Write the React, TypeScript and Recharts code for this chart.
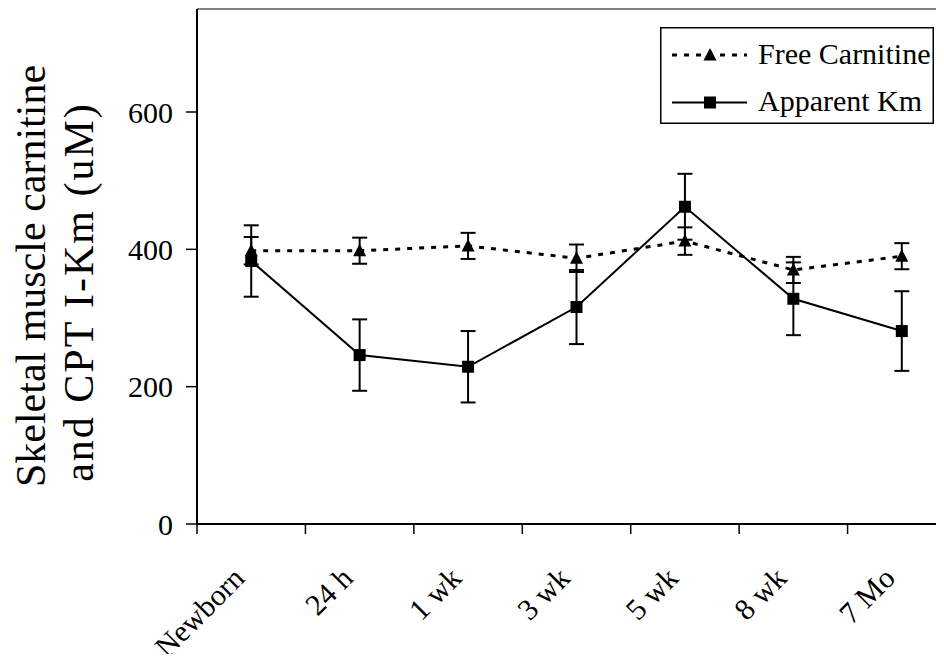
import React from 'react';
import { LineChart, Line, XAxis, YAxis, ErrorBar, ReferenceLine, Legend } from 'recharts';

const categories = ['Newborn', '24 h', '1 wk', '3 wk', '5 wk', '8 wk', '7 Mo'];
const freeCarnitine = [398, 398, 405, 387, 412, 370, 390];
const freeCarnitineErr = [20, 19, 19, 20, 20, 19, 19];
const apparentKm = [383, 246, 229, 316, 462, 328, 281];
const apparentKmErr = [52, 52, 52, 54, 48, 53, 58];
const yTicks = [0, 200, 400, 600];

const data = categories.map((name, i) => ({
  x: i + 0.5,
  name,
  carnitine: freeCarnitine[i],
  carnitineErr: freeCarnitineErr[i],
  km: apparentKm[i],
  kmErr: apparentKmErr[i],
}));

const xTicks: number[] = [];
for (let i = 0; i <= categories.length; i++) {
  xTicks.push(i);
  if (i < categories.length) xTicks.push(i + 0.5);
}

const FONT = '"Liberation Serif", "Times New Roman", serif';

const Triangle = (props: any) => {
  const { cx, cy } = props;
  if (cx == null || cy == null) return null;
  return <path d={`M${cx},${cy - 7} L${cx + 6.5},${cy + 5.5} L${cx - 6.5},${cy + 5.5} Z`} fill="#000" />;
};

const Square = (props: any) => {
  const { cx, cy } = props;
  if (cx == null || cy == null) return null;
  return <rect x={cx - 6} y={cy - 6} width={12} height={12} fill="#000" />;
};

const XTick = (props: any) => {
  const { x, y, payload } = props;
  const v = payload.value;
  if (Number.isInteger(v)) {
    return <line x1={x} x2={x} y1={y} y2={y + 10} stroke="#000" strokeWidth={1.5} />;
  }
  const label = categories[Math.floor(v)];
  const ax = x - 5;
  const ay = y + 56;
  return (
    <text x={ax} y={ay} textAnchor="end" transform={`rotate(-45, ${ax}, ${ay})`} fontSize={30} fontFamily={FONT} fill="#000">
      {label}
    </text>
  );
};

const YLabel = () => (
  <g>
    <text x={45} y={276} textAnchor="middle" transform="rotate(-90, 45, 276)" fontSize={42} fontFamily={FONT} fill="#000">
      Skeletal muscle carnitine
    </text>
    <text x={93} y={292} textAnchor="middle" transform="rotate(-90, 93, 292)" fontSize={42} fontFamily={FONT} fill="#000" letterSpacing={2}>
      and CPT I-Km (uM)
    </text>
  </g>
);

const renderLegend = () => (
  <svg width={274} height={97} style={{ display: 'block' }}>
    <rect x={0.75} y={0.75} width={272.5} height={95.5} fill="#fff" stroke="#000" strokeWidth={1.5} />
    <line x1={12} x2={87} y1={28} y2={28} stroke="#000" strokeWidth={3} strokeDasharray="5 7" />
    <Triangle cx={50} cy={28} />
    <text x={98} y={37} fontSize={30} fontFamily={FONT} fill="#000">Free Carnitine</text>
    <line x1={12} x2={87} y1={75.5} y2={75.5} stroke="#000" strokeWidth={2} />
    <Square cx={50} cy={75.5} />
    <text x={98} y={84} fontSize={30} fontFamily={FONT} fill="#000">Apparent Km</text>
  </svg>
);

export default function App() {
  return (
    <div style={{ margin: -8, width: 944, height: 662, overflow: 'hidden', position: 'relative', background: '#fff' }}>
      <LineChart width={970} height={662} data={data} margin={{ top: 9, right: 14, left: 0, bottom: 0 }}>
        <XAxis
          type="number"
          dataKey="x"
          domain={[0, categories.length]}
          ticks={xTicks}
          interval={0}
          tickLine={false}
          tickSize={0}
          tickMargin={0}
          tick={<XTick />}
          height={138}
          axisLine={{ stroke: '#000', strokeWidth: 2 }}
        />
        <YAxis
          type="number"
          domain={[0, 750]}
          ticks={yTicks}
          width={197}
          tickSize={11}
          tickMargin={13}
          tickLine={{ stroke: '#000', strokeWidth: 1.5 }}
          axisLine={{ stroke: '#000', strokeWidth: 2 }}
          tick={{ fontSize: 30, fontFamily: FONT, fill: '#000' }}
          label={<YLabel />}
        />
        <ReferenceLine y={750} stroke="#808080" strokeWidth={2} />
        <Legend layout="vertical" align="center" verticalAlign="middle" content={renderLegend}
          wrapperStyle={{ left: 660, top: 27, width: 274, height: 97 }} />
        <Line
          type="linear"
          dataKey="carnitine"
          stroke="#000"
          strokeWidth={3}
          strokeDasharray="5 7"
          dot={<Triangle />}
          activeDot={false}
          isAnimationActive={false}
        >
          <ErrorBar dataKey="carnitineErr" width={7.5} stroke="#000" strokeWidth={2} direction="y" />
        </Line>
        <Line
          type="linear"
          dataKey="km"
          stroke="#000"
          strokeWidth={2}
          dot={<Square />}
          activeDot={false}
          isAnimationActive={false}
        >
          <ErrorBar dataKey="kmErr" width={7.5} stroke="#000" strokeWidth={2} direction="y" />
        </Line>
      </LineChart>
    </div>
  );
}
